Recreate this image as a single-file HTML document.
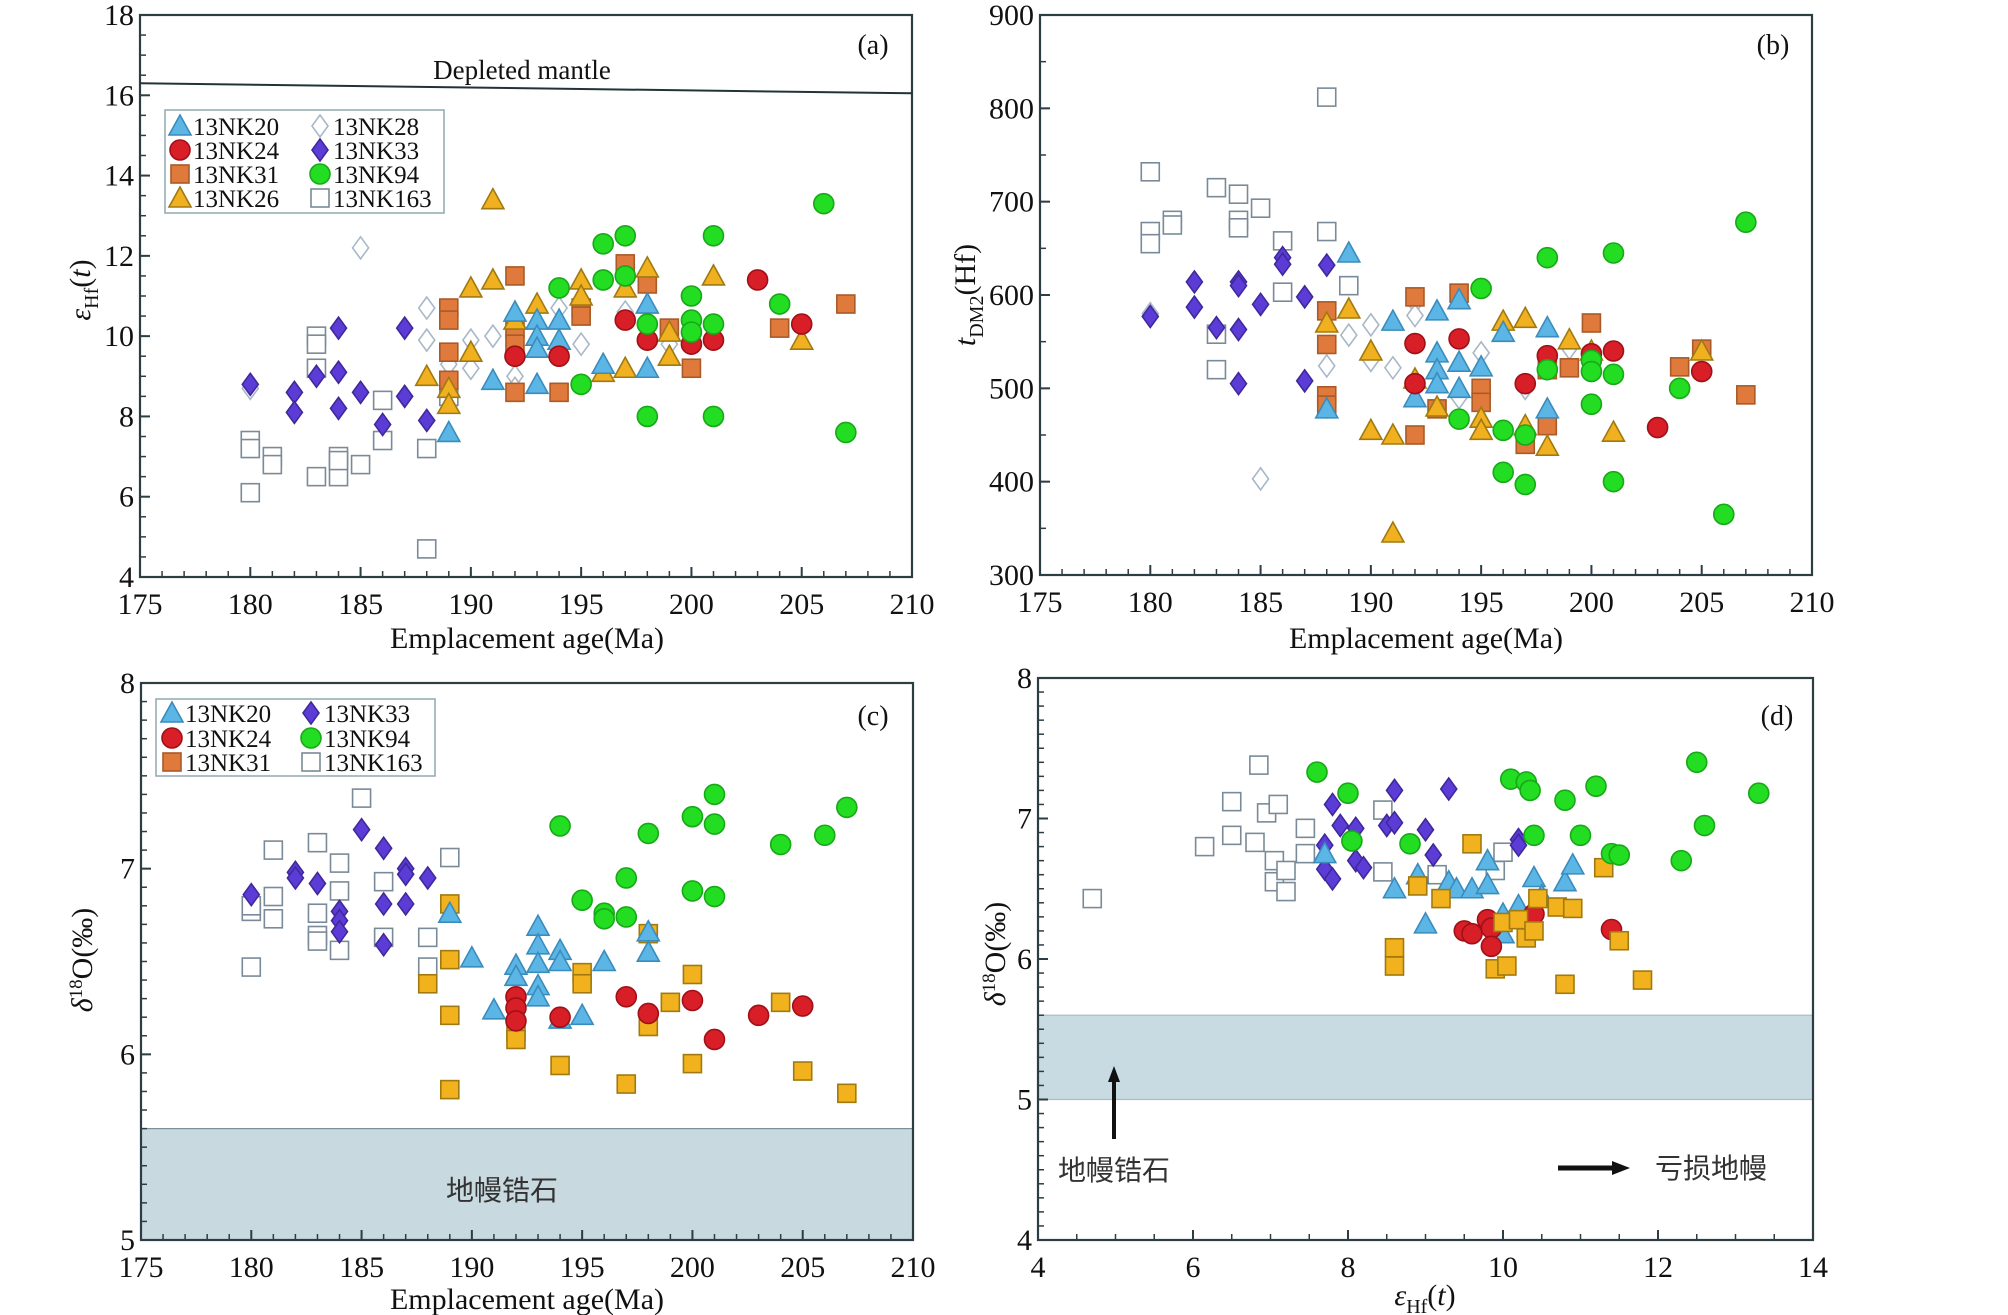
<!DOCTYPE html>
<html><head><meta charset="utf-8"><style>
html,body{margin:0;padding:0;background:#fff}
svg{display:block}
text{font-family:"Liberation Serif","Noto Serif CJK SC",serif;fill:#111}
.cjk{font-family:"Liberation Sans","Noto Sans CJK SC",sans-serif;fill:#333}
</style></head><body>
<svg id="fig" width="2008" height="1315" viewBox="0 0 2008 1315" xmlns="http://www.w3.org/2000/svg"></svg>
<script>
// ---------- Panel (a): age vs eHf(t) ----------
const a_nk163=[[180,7.4],[180,7.2],[180,6.1],[181,7.0],[181,6.8],[183,10.0],[183,9.8],[183,9.2],[183,6.5],[184,7.0],[184,6.5],[184,6.9],[185,6.8],[186,8.4],[186,7.4],[188,7.2],[188,4.7],[189,8.5]];
const a_nk33=[[180,8.8],[182,8.6],[182,8.1],[183,9.0],[184,10.2],[184,9.1],[184,8.2],[185,8.6],[186,7.8],[187,10.2],[187,8.5],[188,7.9]];
const a_nk28=[[180,8.7],[185,12.2],[188,10.7],[188,9.9],[189,9.3],[190,9.9],[190,9.2],[191,10.0],[192,9.0],[192,8.7],[194,10.7],[195,9.8],[197,10.6],[199,9.8]];
const a_nk20=[[189,7.6],[191,8.9],[192,10.6],[193,10.4],[193,10.0],[193,9.7],[193,8.8],[194,10.4],[194,9.9],[196,9.3],[198,10.8],[198,9.2]];
const a_nk24=[[192,9.5],[194,9.5],[197,10.4],[198,9.9],[200,9.8],[201,9.9],[203,11.4],[205,10.3]];
const a_nk31=[[189,10.7],[189,10.4],[189,9.6],[189,8.9],[192,11.5],[192,10.2],[192,9.8],[192,8.6],[194,8.6],[195,10.7],[195,10.5],[197,11.8],[198,11.3],[199,10.2],[200,9.2],[204,10.2],[207,10.8]];
const a_nk26=[[188,9.0],[189,8.7],[189,8.3],[190,11.2],[190,9.6],[191,11.4],[191,13.4],[192,10.4],[193,10.8],[195,11.4],[195,11.0],[196,9.1],[197,11.2],[197,9.2],[198,11.7],[199,10.1],[199,9.5],[201,11.5],[205,9.9]];
const a_nk94=[[194,11.2],[195,8.8],[196,12.3],[196,11.4],[197,12.5],[197,11.5],[198,10.3],[198,8.0],[200,11.0],[200,10.4],[200,10.1],[201,12.5],[201,10.3],[201,8.0],[204,10.8],[206,13.3],[207,7.6]];
const a_mantle=[[175,16.3],[210,16.05]];
// ---------- Panel (b): age vs tDM2 ----------
const b_nk163=[[180,732],[180,668],[180,655],[181,680],[181,675],[183,715],[183,520],[183,558],[184,708],[184,680],[184,672],[185,693],[186,658],[186,603],[188,812],[188,668],[189,610]];
const b_nk33=[[180,577],[182,614],[182,587],[183,565],[184,614],[184,610],[184,563],[184,505],[185,590],[186,640],[186,633],[187,598],[187,508],[188,632]];
const b_nk28=[[180,580],[185,403],[188,524],[188,480],[189,557],[190,568],[190,530],[191,522],[192,592],[192,578],[194,490],[195,538],[197,500],[199,543]];
const b_nk20=[[188,478],[189,645],[191,572],[192,490],[193,583],[193,538],[193,520],[193,505],[194,595],[194,528],[194,500],[195,523],[196,560],[198,565],[198,478]];
const b_nk24=[[192,548],[192,505],[194,553],[197,505],[198,535],[200,537],[201,540],[203,458],[205,518]];
const b_nk31=[[188,583],[188,547],[188,492],[188,482],[192,598],[192,450],[193,478],[194,602],[195,500],[195,485],[197,440],[198,520],[198,460],[199,522],[200,570],[204,523],[205,542],[207,493]];
const b_nk26=[[188,570],[189,585],[190,540],[190,455],[191,450],[191,345],[192,510],[193,480],[195,468],[195,455],[196,572],[197,575],[197,460],[198,438],[199,552],[200,540],[201,453],[205,540]];
const b_nk94=[[194,467],[195,607],[196,410],[196,455],[197,450],[197,397],[198,640],[198,520],[200,530],[200,518],[200,483],[201,645],[201,515],[201,400],[204,500],[206,365],[207,678]];
// ---------- Panel (c): age vs d18O ----------
const c_nk163=[[180,6.77],[180,6.47],[180,6.8],[181,7.1],[181,6.85],[181,6.73],[183,7.14],[183,6.76],[183,6.64],[183,6.61],[184,7.03],[184,6.88],[184,6.56],[185,7.38],[186,6.93],[186,6.63],[188,6.63],[188,6.47],[189,7.06]];
const c_nk33=[[180,6.86],[182,6.98],[182,6.95],[183,6.92],[184,6.77],[184,6.72],[184,6.66],[185,7.21],[186,7.11],[186,6.81],[186,6.59],[187,7.0],[187,6.97],[187,6.81],[188,6.95]];
const c_nk20=[[189,6.76],[190,6.52],[191,6.24],[192,6.48],[192,6.42],[193,6.69],[193,6.59],[193,6.49],[193,6.37],[193,6.31],[194,6.56],[194,6.5],[194,6.19],[195,6.21],[196,6.5],[198,6.66],[198,6.55]];
const c_nk24=[[192,6.31],[192,6.25],[192,6.18],[194,6.2],[197,6.31],[198,6.22],[200,6.29],[201,6.08],[203,6.21],[205,6.26]];
const c_nk31=[[188,6.38],[189,6.81],[189,6.51],[189,6.21],[189,5.81],[192,6.12],[192,6.08],[194,5.94],[195,6.44],[195,6.38],[197,5.84],[198,6.65],[198,6.15],[199,6.28],[200,6.43],[200,5.95],[204,6.28],[205,5.91],[207,5.79]];
const c_nk94=[[194,7.23],[195,6.83],[196,6.76],[196,6.73],[197,6.95],[197,6.74],[198,7.19],[200,7.28],[200,6.88],[201,7.4],[201,7.24],[201,6.85],[204,7.13],[206,7.18],[207,7.33]];
// ---------- Panel (d): eHf vs d18O ----------
const d_nk163=[[4.7,6.43],[6.15,6.8],[6.5,7.12],[6.5,6.88],[6.85,7.38],[6.8,6.83],[6.95,7.04],[7.1,7.1],[7.05,6.7],[7.05,6.55],[7.2,6.63],[7.2,6.48],[7.45,6.93],[7.45,6.75],[8.45,7.06],[8.45,6.62],[9.15,6.6],[9.9,6.63],[10.0,6.76]];
const d_nk33=[[7.7,6.81],[7.7,6.64],[7.8,7.1],[7.8,6.57],[7.9,6.95],[8.1,6.93],[8.1,6.7],[8.2,6.65],[8.5,6.95],[8.6,7.2],[8.6,6.97],[9.0,6.92],[9.1,6.74],[9.3,7.21],[10.2,6.85],[10.2,6.81]];
const d_nk20=[[7.7,6.75],[8.6,6.5],[8.9,6.6],[9.0,6.25],[9.3,6.55],[9.4,6.5],[9.6,6.5],[9.8,6.7],[9.8,6.53],[10.0,6.32],[10.0,6.18],[10.2,6.38],[10.4,6.58],[10.5,6.45],[10.8,6.55],[10.9,6.67]];
const d_nk24=[[9.5,6.2],[9.6,6.18],[9.8,6.28],[9.85,6.22],[9.85,6.09],[10.3,6.26],[10.4,6.32],[11.4,6.21]];
const d_nk31=[[8.6,6.08],[8.6,5.95],[8.9,6.52],[9.2,6.43],[9.6,6.82],[9.9,5.93],[10.0,6.26],[10.05,5.95],[10.2,6.28],[10.3,6.15],[10.4,6.2],[10.45,6.43],[10.7,6.37],[10.8,5.82],[10.9,6.36],[11.3,6.65],[11.5,6.13],[11.8,5.85]];
const d_nk94=[[7.6,7.33],[8.0,7.18],[8.05,6.84],[8.8,6.82],[10.1,7.28],[10.3,7.26],[10.35,7.2],[10.4,6.88],[10.8,7.13],[11.0,6.88],[11.2,7.23],[11.4,6.75],[11.5,6.74],[12.3,6.7],[12.5,7.4],[12.6,6.95],[13.3,7.18]];
const ageTicks=[175,180,185,190,195,200,205,210];
const aTicksY=[4,6,8,10,12,14,16,18];
const bTicksY=[300,400,500,600,700,800,900];
const cTicksY=[5,6,7,8];
const dTicksX=[4,6,8,10,12,14];
const dTicksY=[4,5,6,7,8];

const NS="http://www.w3.org/2000/svg";
const svg=document.getElementById('fig');
function mk(tag,attrs,parent){const e=document.createElementNS(NS,tag);for(const k in attrs)e.setAttribute(k,attrs[k]);(parent||svg).appendChild(e);return e;}
const ST={
 nk20:{shape:'tri',fill:'#5bb6e6',stroke:'#3a8cbc'},
 nk24:{shape:'circ',fill:'#d81e26',stroke:'#a01018'},
 nk31:{shape:'sq',fill:'#e07a3c',stroke:'#a85a28'},
 nk31c:{shape:'sq',fill:'#f2b21e',stroke:'#a07a10'},
 nk26:{shape:'tri',fill:'#f0b020',stroke:'#a07a10'},
 nk94:{shape:'circ',fill:'#22dd22',stroke:'#18a818'},
 nk33:{shape:'dia',fill:'#5c3cd6',stroke:'#40289c'},
 nk28:{shape:'dia',fill:'#fff',stroke:'#a8b8c8'},
 nk163:{shape:'sq',fill:'#fff',stroke:'#7a8a98'}
};
function marker(g,st,x,y){
 let e;
 if(st.shape==='circ')e=mk('circle',{cx:x,cy:y,r:10},g);
 else if(st.shape==='sq')e=mk('rect',{x:x-9,y:y-9,width:18,height:18},g);
 else if(st.shape==='tri')e=mk('polygon',{points:`${x},${y-11} ${x-11},${y+9} ${x+11},${y+9}`},g);
 else e=mk('polygon',{points:`${x},${y-11} ${x+8},${y} ${x},${y+11} ${x-8},${y}`},g);
 e.setAttribute('fill',st.fill);e.setAttribute('stroke',st.stroke);e.setAttribute('stroke-width',1.6);
 return e;
}
function panel(id,box,xr,yr,xt,yt,xminor,yminor){
 const g=mk('g',{});
 
 
 const X=v=>box.l+(v-xr[0])/(xr[1]-xr[0])*(box.r-box.l);
 const Y=v=>box.b-(v-yr[0])/(yr[1]-yr[0])*(box.b-box.t);
 return {g,X,Y,box,xr,yr,xt,yt,xminor,yminor};
}
function axes(P){
 const {g,X,Y,box}=P;
 const fr=mk('rect',{x:box.l,y:box.t,width:box.r-box.l,height:box.b-box.t,fill:'none',stroke:'#2c3e44','stroke-width':2.2},g);
 
 for(let v=P.xr[0];v<=P.xr[1]+1e-9;v+=P.xminor){mk('line',{x1:X(v),x2:X(v),y1:box.b,y2:box.b-6,stroke:'#2c3e44','stroke-width':1.5},g);}
 for(let v=P.yr[0];v<=P.yr[1]+1e-9;v+=P.yminor){mk('line',{x1:box.l,x2:box.l+6,y1:Y(v),y2:Y(v),stroke:'#2c3e44','stroke-width':1.5},g);}
 P.xt.forEach(v=>{mk('line',{x1:X(v),x2:X(v),y1:box.b,y2:box.b-10,stroke:'#2c3e44','stroke-width':2},g);
  const t=mk('text',{x:X(v),y:box.b+37,'text-anchor':'middle','font-size':30},g);t.textContent=v;
  });
 P.yt.forEach(v=>{mk('line',{x1:box.l,x2:box.l+10,y1:Y(v),y2:Y(v),stroke:'#2c3e44','stroke-width':2},g);
  const t=mk('text',{x:box.l-6,y:Y(v)+10,'text-anchor':'end','font-size':30},g);t.textContent=v;
  });
}
function series(P,data,st,name){
 const sg=mk('g',{},P.g);
 
 
 data.forEach(d=>{const m=marker(sg,st,P.X(d[0]),P.Y(d[1]));
  
  });
}
function label(g,txt,x,y,size,name,extra){
 const t=mk('text',Object.assign({x:x,y:y,'font-size':size},extra||{}),g);t.innerHTML=txt;
 return t;
}
function legend(g,box,items){
 const r=mk('rect',{x:box.x,y:box.y,width:box.w,height:box.h,fill:'#fff',stroke:'#90a8b0','stroke-width':1.5},g);
 
 items.forEach(it=>{const lg=mk('g',{},g);
  
  const m=marker(lg,it.st,it.x,it.y);
  if(it.st.shape==='tri'||it.st.shape==='dia'){}
  const t=mk('text',{x:it.x+13,y:it.y+9,'font-size':25,fill:'#333'},lg);t.textContent=it.t;});
}

// ===== (a) =====
const A=panel('a',{l:140,r:912,t:15,b:577},[175,210],[4,18],ageTicks,aTicksY,1,0.5);
axes(A);
const ml=mk('line',{x1:A.X(a_mantle[0][0]),y1:A.Y(a_mantle[0][1]),x2:A.X(a_mantle[1][0]),y2:A.Y(a_mantle[1][1]),stroke:'#223338','stroke-width':2},A.g);

label(A.g,'Depleted mantle',522,79,27,'depleted-mantle-label',{'text-anchor':'middle',fill:'#333'});
label(A.g,'(a)',873,54,28,'panel-label-a',{'text-anchor':'middle'});
series(A,a_nk163,ST.nk163,'13nk163');series(A,a_nk28,ST.nk28,'13nk28');series(A,a_nk33,ST.nk33,'13nk33');
series(A,a_nk31,ST.nk31,'13nk31');series(A,a_nk26,ST.nk26,'13nk26');series(A,a_nk20,ST.nk20,'13nk20');
series(A,a_nk24,ST.nk24,'13nk24');series(A,a_nk94,ST.nk94,'13nk94');
legend(A.g,{x:165,y:110,w:279,h:103},[
 {st:ST.nk20,t:'13NK20',x:180,y:126},{st:ST.nk24,t:'13NK24',x:180,y:150},{st:ST.nk31,t:'13NK31',x:180,y:174},{st:ST.nk26,t:'13NK26',x:180,y:198},
 {st:ST.nk28,t:'13NK28',x:320,y:126},{st:ST.nk33,t:'13NK33',x:320,y:150},{st:ST.nk94,t:'13NK94',x:320,y:174},{st:ST.nk163,t:'13NK163',x:320,y:198}]);
label(A.g,'Emplacement age(Ma)',527,648,30,'x-axis-title-a',{'text-anchor':'middle'});
label(A.g,'<tspan font-style="italic">ε</tspan><tspan font-size="20" dy="8">Hf</tspan><tspan dy="-8">(</tspan><tspan font-style="italic">t</tspan>)',0,0,30,'y-axis-title-a',{'text-anchor':'middle',transform:'translate(90,290) rotate(-90)'});

// ===== (b) =====
const B=panel('b',{l:1040,r:1812,t:15,b:575},[175,210],[300,900],ageTicks,bTicksY,1,50);
axes(B);
label(B.g,'(b)',1773,54,28,'panel-label-b',{'text-anchor':'middle'});
series(B,b_nk163,ST.nk163,'13nk163');series(B,b_nk28,ST.nk28,'13nk28');series(B,b_nk33,ST.nk33,'13nk33');
series(B,b_nk31,ST.nk31,'13nk31');series(B,b_nk26,ST.nk26,'13nk26');series(B,b_nk20,ST.nk20,'13nk20');
series(B,b_nk24,ST.nk24,'13nk24');series(B,b_nk94,ST.nk94,'13nk94');
label(B.g,'Emplacement age(Ma)',1426,648,30,'x-axis-title-b',{'text-anchor':'middle'});
label(B.g,'<tspan font-style="italic">t</tspan><tspan font-size="20" dy="8">DM2</tspan><tspan dy="-8">(Hf)</tspan>',0,0,30,'y-axis-title-b',{'text-anchor':'middle',transform:'translate(975,295) rotate(-90)'});

// ===== (c) =====
const C=panel('c',{l:141,r:913,t:683,b:1240},[175,210],[5,8],ageTicks,cTicksY,1,0.1);
const bandC=mk('rect',{x:141,y:C.Y(5.6),width:772,height:C.Y(5)-C.Y(5.6),fill:'#c8d9e0',stroke:'#7a9098','stroke-width':1.2},C.g);

axes(C);
label(C.g,'地幔锆石',502,1200,28,'mantle-zircon-label',{'text-anchor':'middle',class:'cjk'});
label(C.g,'(c)',873,725,28,'panel-label-c',{'text-anchor':'middle'});
series(C,c_nk163,ST.nk163,'13nk163');series(C,c_nk33,ST.nk33,'13nk33');series(C,c_nk31,ST.nk31c,'13nk31');
series(C,c_nk20,ST.nk20,'13nk20');series(C,c_nk24,ST.nk24,'13nk24');series(C,c_nk94,ST.nk94,'13nk94');
legend(C.g,{x:156,y:699,w:279,h:77},[
 {st:ST.nk20,t:'13NK20',x:172,y:713},{st:ST.nk24,t:'13NK24',x:172,y:738},{st:ST.nk31,t:'13NK31',x:172,y:762},
 {st:ST.nk33,t:'13NK33',x:311,y:713},{st:ST.nk94,t:'13NK94',x:311,y:738},{st:ST.nk163,t:'13NK163',x:311,y:762}]);
label(C.g,'Emplacement age(Ma)',527,1309,30,'x-axis-title-c',{'text-anchor':'middle'});
label(C.g,'<tspan font-style="italic">δ</tspan><tspan font-size="19" dy="-10">18</tspan><tspan dy="10">O(‰)</tspan>',0,0,30,'y-axis-title-c',{'text-anchor':'middle',transform:'translate(92,960) rotate(-90)'});

// ===== (d) =====
const D=panel('d',{l:1038,r:1813,t:678,b:1240},[4,14],[4,8],dTicksX,dTicksY,0.5,0.1);
const bandD=mk('rect',{x:1038,y:D.Y(5.6),width:775,height:D.Y(5)-D.Y(5.6),fill:'#c8dae2',stroke:'#a8bcc4','stroke-width':1.2},D.g);

axes(D);
label(D.g,'(d)',1777,725,28,'panel-label-d',{'text-anchor':'middle'});
series(D,d_nk163,ST.nk163,'13nk163');series(D,d_nk33,ST.nk33,'13nk33');series(D,d_nk20,ST.nk20,'13nk20');
series(D,d_nk24,ST.nk24,'13nk24');series(D,d_nk31,ST.nk31c,'13nk31');series(D,d_nk94,ST.nk94,'13nk94');
const ar1=mk('g',{},D.g);
mk('line',{x1:1114,y1:1139,x2:1114,y2:1080,stroke:'#111','stroke-width':4},ar1);
mk('polygon',{points:'1108,1082 1120,1082 1114,1066',fill:'#111'},ar1);
label(D.g,'地幔锆石',1114,1180,28,'mantle-zircon-label-d',{'text-anchor':'middle',class:'cjk'});
const ar2=mk('g',{},D.g);
mk('line',{x1:1558,y1:1168,x2:1614,y2:1168,stroke:'#111','stroke-width':5},ar2);
mk('polygon',{points:'1612,1161 1612,1175 1630,1168',fill:'#111'},ar2);
label(D.g,'亏损地幔',1711,1178,28,'depleted-mantle-label-d',{'text-anchor':'middle',class:'cjk'});
label(D.g,'<tspan font-style="italic">ε</tspan><tspan font-size="20" dy="8">Hf</tspan><tspan dy="-8">(</tspan><tspan font-style="italic">t</tspan>)',1425,1305,30,'x-axis-title-d',{'text-anchor':'middle'});
label(D.g,'<tspan font-style="italic">δ</tspan><tspan font-size="19" dy="-10">18</tspan><tspan dy="10">O(‰)</tspan>',0,0,30,'y-axis-title-d',{'text-anchor':'middle',transform:'translate(1005,954) rotate(-90)'});
</script>
</body></html>
